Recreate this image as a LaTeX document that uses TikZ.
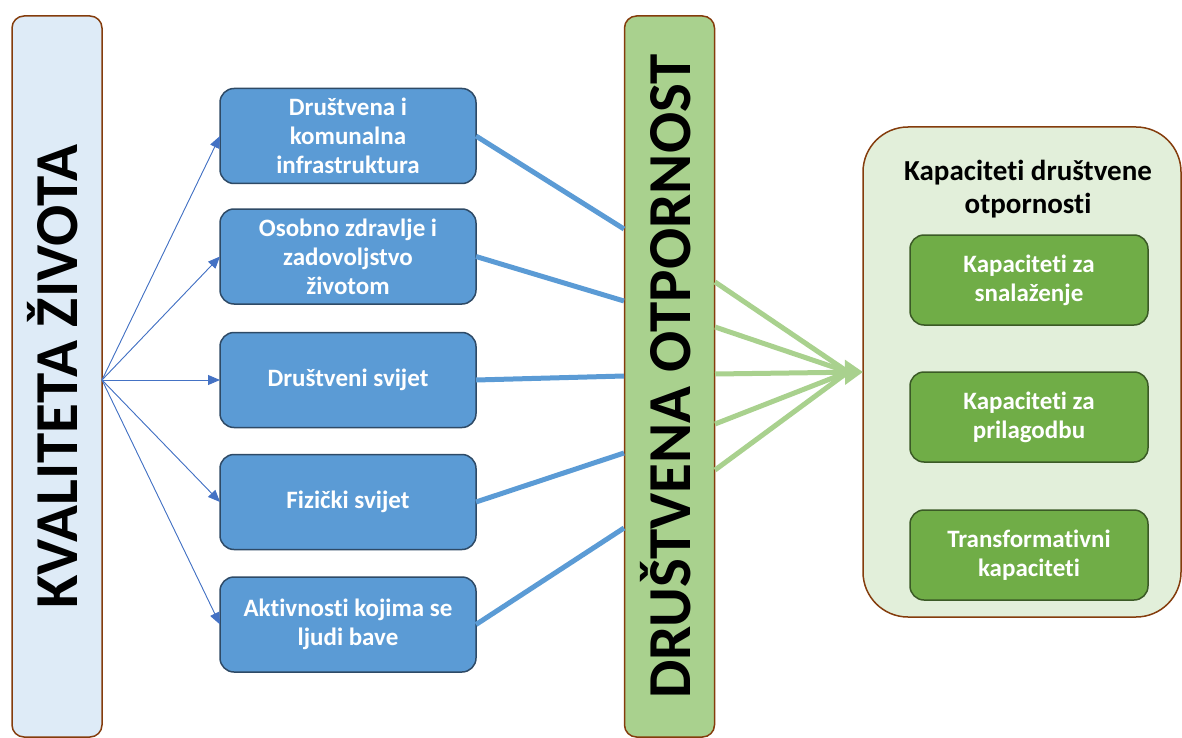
\documentclass[tikz,border=0pt]{standalone}
\usepackage{fontspec}
\setmainfont{Carlito}[Ligatures=NoCommon]
\usetikzlibrary{arrows.meta}

\definecolor{barbrown}{HTML}{843C0C}
\definecolor{kzfill}{HTML}{DEEBF7}
\definecolor{otpfill}{HTML}{A9D18E}
\definecolor{boxblue}{HTML}{5B9BD5}
\definecolor{boxblueline}{HTML}{2E4A66}
\definecolor{arrowblue}{HTML}{4472C4}
\definecolor{kapfill}{HTML}{E2EFDA}
\definecolor{boxgreen}{HTML}{70AD47}
\definecolor{boxgreenline}{HTML}{3B5A26}

\newcommand{\bigtxt}{\fontsize{61}{61}\selectfont\bfseries}
\newcommand{\boxtxt}{\fontsize{25}{29}\selectfont\bfseries}
\newcommand{\bartxt}[1]{\rotatebox{90}{\bigtxt\raisebox{0pt}[0.68em][0pt]{#1}}}

\tikzset{
  bar/.style={draw=barbrown, line width=1.5pt, rounded corners=12pt, minimum width=90pt, minimum height=721pt, inner sep=0pt, outer sep=0pt},
  bluebox/.style={draw=boxblueline, fill=boxblue, line width=1.5pt, rounded corners=14pt, minimum width=256pt, minimum height=95pt, inner sep=0pt, outer sep=0pt, align=center, text=white, font=\boxtxt},
  greenbox/.style={draw=boxgreenline, fill=boxgreen, line width=1.5pt, rounded corners=14pt, minimum width=238pt, minimum height=90pt, inner sep=0pt, outer sep=0pt, align=center, text=white, font=\boxtxt},
  thinarrow/.style={->, draw=arrowblue, fill=arrowblue, line width=0.9pt},
  blueline/.style={draw=boxblue, line width=5pt},
  greenline/.style={draw=otpfill, line width=5pt}
}

\begin{document}
\begin{tikzpicture}[x=1pt, y=-1pt, >={Triangle[length=12pt,width=10pt]}]
\useasboundingbox (0,0) rectangle (1182,738);

% Vertical bars
\node[bar, fill=kzfill] (kz) at (57,376.5) {\bartxt{KVALITETA ŽIVOTA}};
\node[bar, fill=otpfill] (otp) at (669.5,376.5) {\bartxt{DRUŠTVENA OTPORNOST}};

% Blue boxes
\node[bluebox] (b1) at (348,136) {Društvena i\\komunalna\\infrastruktura};
\node[bluebox] (b2) at (348,256.5) {Osobno zdravlje i\\zadovoljstvo\\životom};
\node[bluebox] (b3) at (348,380) {Društveni svijet};
\node[bluebox] (b4) at (348,502) {Fizički svijet};
\node[bluebox] (b5) at (348,624.5) {Aktivnosti kojima se\\ljudi bave};

% Capacities container
\node[draw=barbrown, fill=kapfill, line width=1.5pt, rounded corners=45pt, minimum width=318pt, minimum height=490pt, outer sep=0pt] (kap) at (1022,372) {};
\node[align=center, font=\fontsize{29}{33}\selectfont\bfseries] (kapt) at (1028,189) {Kapaciteti društvene\\otpornosti};
\node[greenbox] (g1) at (1029,280) {Kapaciteti za\\snalaženje};
\node[greenbox] (g2) at (1029,417) {Kapaciteti za\\prilagodbu};
\node[greenbox] (g3) at (1029,555) {Transformativni\\kapaciteti};

% Points on the middle bar
\coordinate (o1) at (624,229);
\coordinate (o2) at (624,301);
\coordinate (o3) at (624,376);
\coordinate (o4) at (624,453);
\coordinate (o5) at (624,528);
\coordinate (p1) at (715,282);
\coordinate (p2) at (715,327);
\coordinate (p3) at (715,374);
\coordinate (p4) at (715,424);
\coordinate (p5) at (715,470);
\coordinate (tip) at (kap.west |- 0,372);
\coordinate (base) at (848,372);

% Thin arrows from the left bar
\draw[thinarrow] (kz.east |- b3.west) -- (b1.west);
\draw[thinarrow] (kz.east |- b3.west) -- (b2.west);
\draw[thinarrow] (kz.east |- b3.west) -- (b3.west);
\draw[thinarrow] (kz.east |- b3.west) -- (b4.west);
\draw[thinarrow] (kz.east |- b3.west) -- (b5.west);

% Thick blue lines into the middle bar
\draw[blueline] (b1.east) -- (o1);
\draw[blueline] (b2.east) -- (o2);
\draw[blueline] (b3.east) -- (o3);
\draw[blueline] (b4.east) -- (o4);
\draw[blueline] (b5.east) -- (o5);

% Green lines to the container
\draw[greenline] (p1) -- (base);
\draw[greenline] (p2) -- (base);
\draw[greenline] (p4) -- (base);
\draw[greenline] (p5) -- (base);
\draw[greenline, -{Triangle[length=18pt,width=24pt]}, fill=otpfill] (p3) -- (tip);

\end{tikzpicture}
\end{document}
